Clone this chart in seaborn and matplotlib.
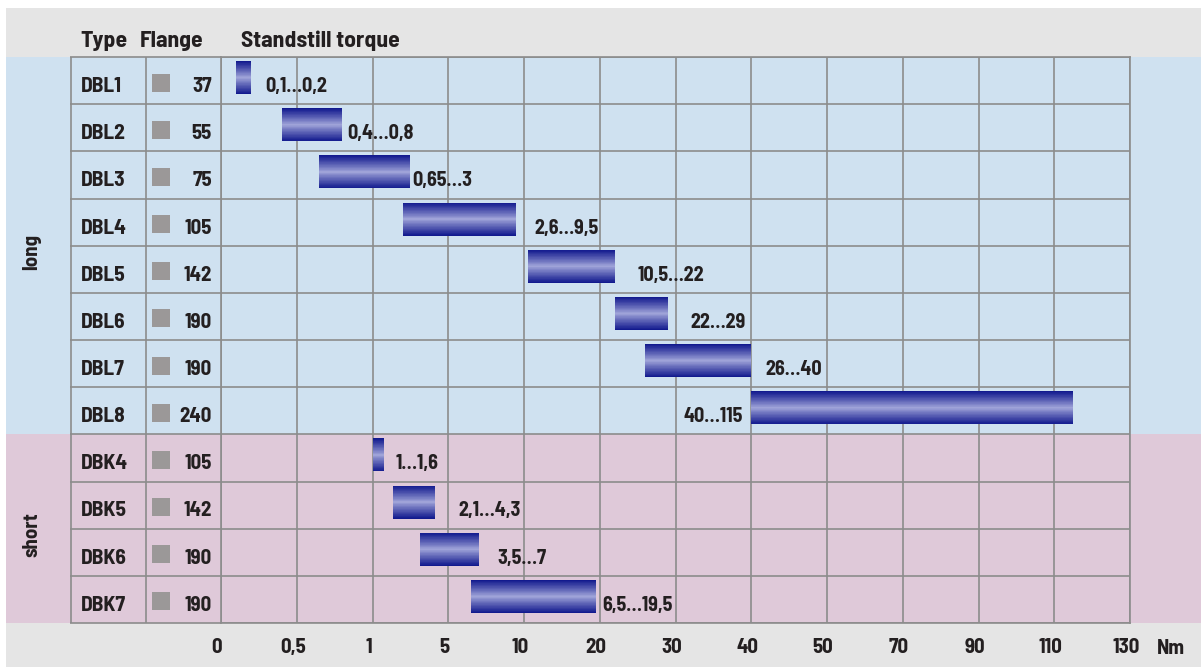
import numpy as np
import matplotlib
matplotlib.use("Agg")
import matplotlib.pyplot as plt
import matplotlib.transforms as mtransforms
from matplotlib.patches import Rectangle
import seaborn as sns

# data
types = ["DBL1", "DBL2", "DBL3", "DBL4", "DBL5", "DBL6", "DBL7", "DBL8",
         "DBK4", "DBK5", "DBK6", "DBK7"]
flanges = [37, 55, 75, 105, 142, 190, 190, 240, 105, 142, 190, 190]
torque_min = [0.1, 0.4, 0.65, 2.6, 10.5, 22, 26, 40, 1, 2.1, 3.5, 6.5]
torque_max = [0.2, 0.8, 3, 9.5, 22, 29, 40, 115, 1.6, 4.3, 7, 19.5]
groups = ["long", "short"]
group_sizes = [8, 4]
tick_values = [0, 0.5, 1, 5, 10, 20, 30, 40, 50, 70, 90, 110, 130]
tick_labels = ["0", "0,5", "1", "5", "10", "20", "30", "40", "50", "70", "90", "110", "130"]

# label offsets from the bar end in px (negative = left of bar start)
label_dx = [14, 5, 2, 18, 23, 22, 14, -8, 12, 23, 19, 6]

W, H = 1201, 667
TOP, BOTTOM = 57, 623
LEFT_TABLE, TYPE_COL, GRID_L, GRID_R = 70, 146, 221, 1130
row_h = (BOTTOM - TOP) / len(types)

TEXT = "#231f20"
LINE = "#8c8c8c"
GRAY_BAND = "#e5e5e5"
BAND_COLORS = ["#cfe1f0", "#dfc9d9"]
FONT = ["Barlow Semi Condensed", "DejaVu Sans"]

sns.set_theme(style="white")
plt.rcParams["font.family"] = FONT
plt.rcParams["font.weight"] = "bold"
plt.rcParams["font.stretch"] = "condensed"

fig = plt.figure(figsize=(W / 100, H / 100), dpi=100)
fig.patch.set_facecolor("white")

# background in pixel coordinates
bg = fig.add_axes([0, 0, 1, 1])
bg.set_xlim(0, W)
bg.set_ylim(H, 0)
bg.axis("off")
bg.add_patch(Rectangle((6, 8), W - 6, TOP - 8, color=GRAY_BAND, lw=0))
bg.add_patch(Rectangle((6, BOTTOM), W - 6, H - BOTTOM, color=GRAY_BAND, lw=0))
y0 = TOP
for g, n, c in zip(groups, group_sizes, BAND_COLORS):
    bg.add_patch(Rectangle((6, y0), W - 6, n * row_h, color=c, lw=0))
    bg.text(32, y0 + n * row_h / 2 + 6, g, rotation=90, ha="center", va="center",
            fontsize=15, color=TEXT, fontweight="bold")
    y0 += n * row_h

for label, x in [("Type", 80), ("Flange", 140), ("Standstill torque", 241)]:
    bg.text(x, 47, label, ha="left", va="baseline", fontsize=17, color=TEXT, fontweight="bold")
bg.text(1171, 649, "Nm", ha="center", va="center", fontsize=15, color=TEXT, fontweight="bold")

rows = np.arange(len(types))
bounds = np.arange(len(types) + 1) - 0.5
base_y = rows - 0.5 + 35 / row_h

# table columns
ax_pos_y = 1 - BOTTOM / H
ax_h = (BOTTOM - TOP) / H
tab = fig.add_axes([LEFT_TABLE / W, ax_pos_y, (GRID_L - LEFT_TABLE) / W, ax_h])
tab.patch.set_alpha(0)
tab.set_xlim(LEFT_TABLE, GRID_L)
tab.set_ylim(len(types) - 0.5, -0.5)
tab.hlines(bounds, LEFT_TABLE, GRID_L, color=LINE, lw=1.2, clip_on=False)
tab.vlines([LEFT_TABLE + 0.5, TYPE_COL], -0.5, len(types) - 0.5, color=LINE, lw=1.2, clip_on=False)
sns.scatterplot(x=np.full(len(types), 161.0), y=rows + 2 / row_h, marker="s", s=168,
                color="#9b9898", edgecolor="none", legend=False, ax=tab)
for r, t, f in zip(base_y, types, flanges):
    tab.text(81, r, t, ha="left", va="baseline", fontsize=15.5, color=TEXT, fontweight="bold")
    tab.text(212, r, str(f), ha="right", va="baseline", fontsize=15, color=TEXT, fontweight="bold")
tab.set_axis_off()

# torque chart with piecewise-linear scale
pos = np.arange(len(tick_values))

def fwd(x):
    return np.interp(x, tick_values, pos)

def inv(p):
    return np.interp(p, pos, tick_values)

ax = fig.add_axes([GRID_L / W, ax_pos_y, (GRID_R - GRID_L) / W, ax_h])
ax.patch.set_alpha(0)
ax.set_xscale("function", functions=(fwd, inv))
ax.set_xlim(0, 130)
ax.set_ylim(len(types) - 0.5, -0.5)
ax.set_xticks(tick_values, labels=tick_labels)
ax.set_yticks([])
ax.tick_params(axis="x", length=0, pad=11, labelsize=15, labelcolor=TEXT)
shift = mtransforms.ScaledTranslation(-4 / 100, 0, fig.dpi_scale_trans)
for tick in ax.xaxis.get_major_ticks():
    tick.label1.set_fontweight("bold")
    tick.label1.set_transform(tick.label1.get_transform() + shift)
ax.grid(axis="x", color=LINE, lw=1.2)
ax.set_axisbelow(True)
ax.hlines(bounds, 0, 130, color=LINE, lw=1.2, zorder=0.5)
for s in ax.spines.values():
    s.set_color(LINE)
    s.set_linewidth(1.2)

# cylinder-like gradient bars, drawn as concentric layers
dark = np.array([18, 26, 142]) / 255
light = np.array([166, 170, 220]) / 255
bar_h = 33 / row_h
bar_y = rows - 3 / row_h
widths = np.array(torque_max) - np.array(torque_min)
n_layers = 28
for k in range(n_layers):
    f = 1 - k / n_layers
    col = light + (dark - light) * f ** 0.9
    ax.barh(bar_y, widths, left=torque_min, height=bar_h * f, color=col, linewidth=0, zorder=3)

def fmt(v):
    return f"{v:g}".replace(".", ",")

for r, lo, hi, dx in zip(base_y, torque_min, torque_max, label_dx):
    off = mtransforms.ScaledTranslation(dx / 100, 0, fig.dpi_scale_trans)
    x, ha = (hi, "left") if dx >= 0 else (lo, "right")
    ax.text(x, r, f"{fmt(lo)}…{fmt(hi)}", ha=ha, va="baseline", fontsize=14.5, color=TEXT,
            fontweight="bold", transform=ax.transData + off, zorder=4)

fig.savefig("out.png", dpi=100)
